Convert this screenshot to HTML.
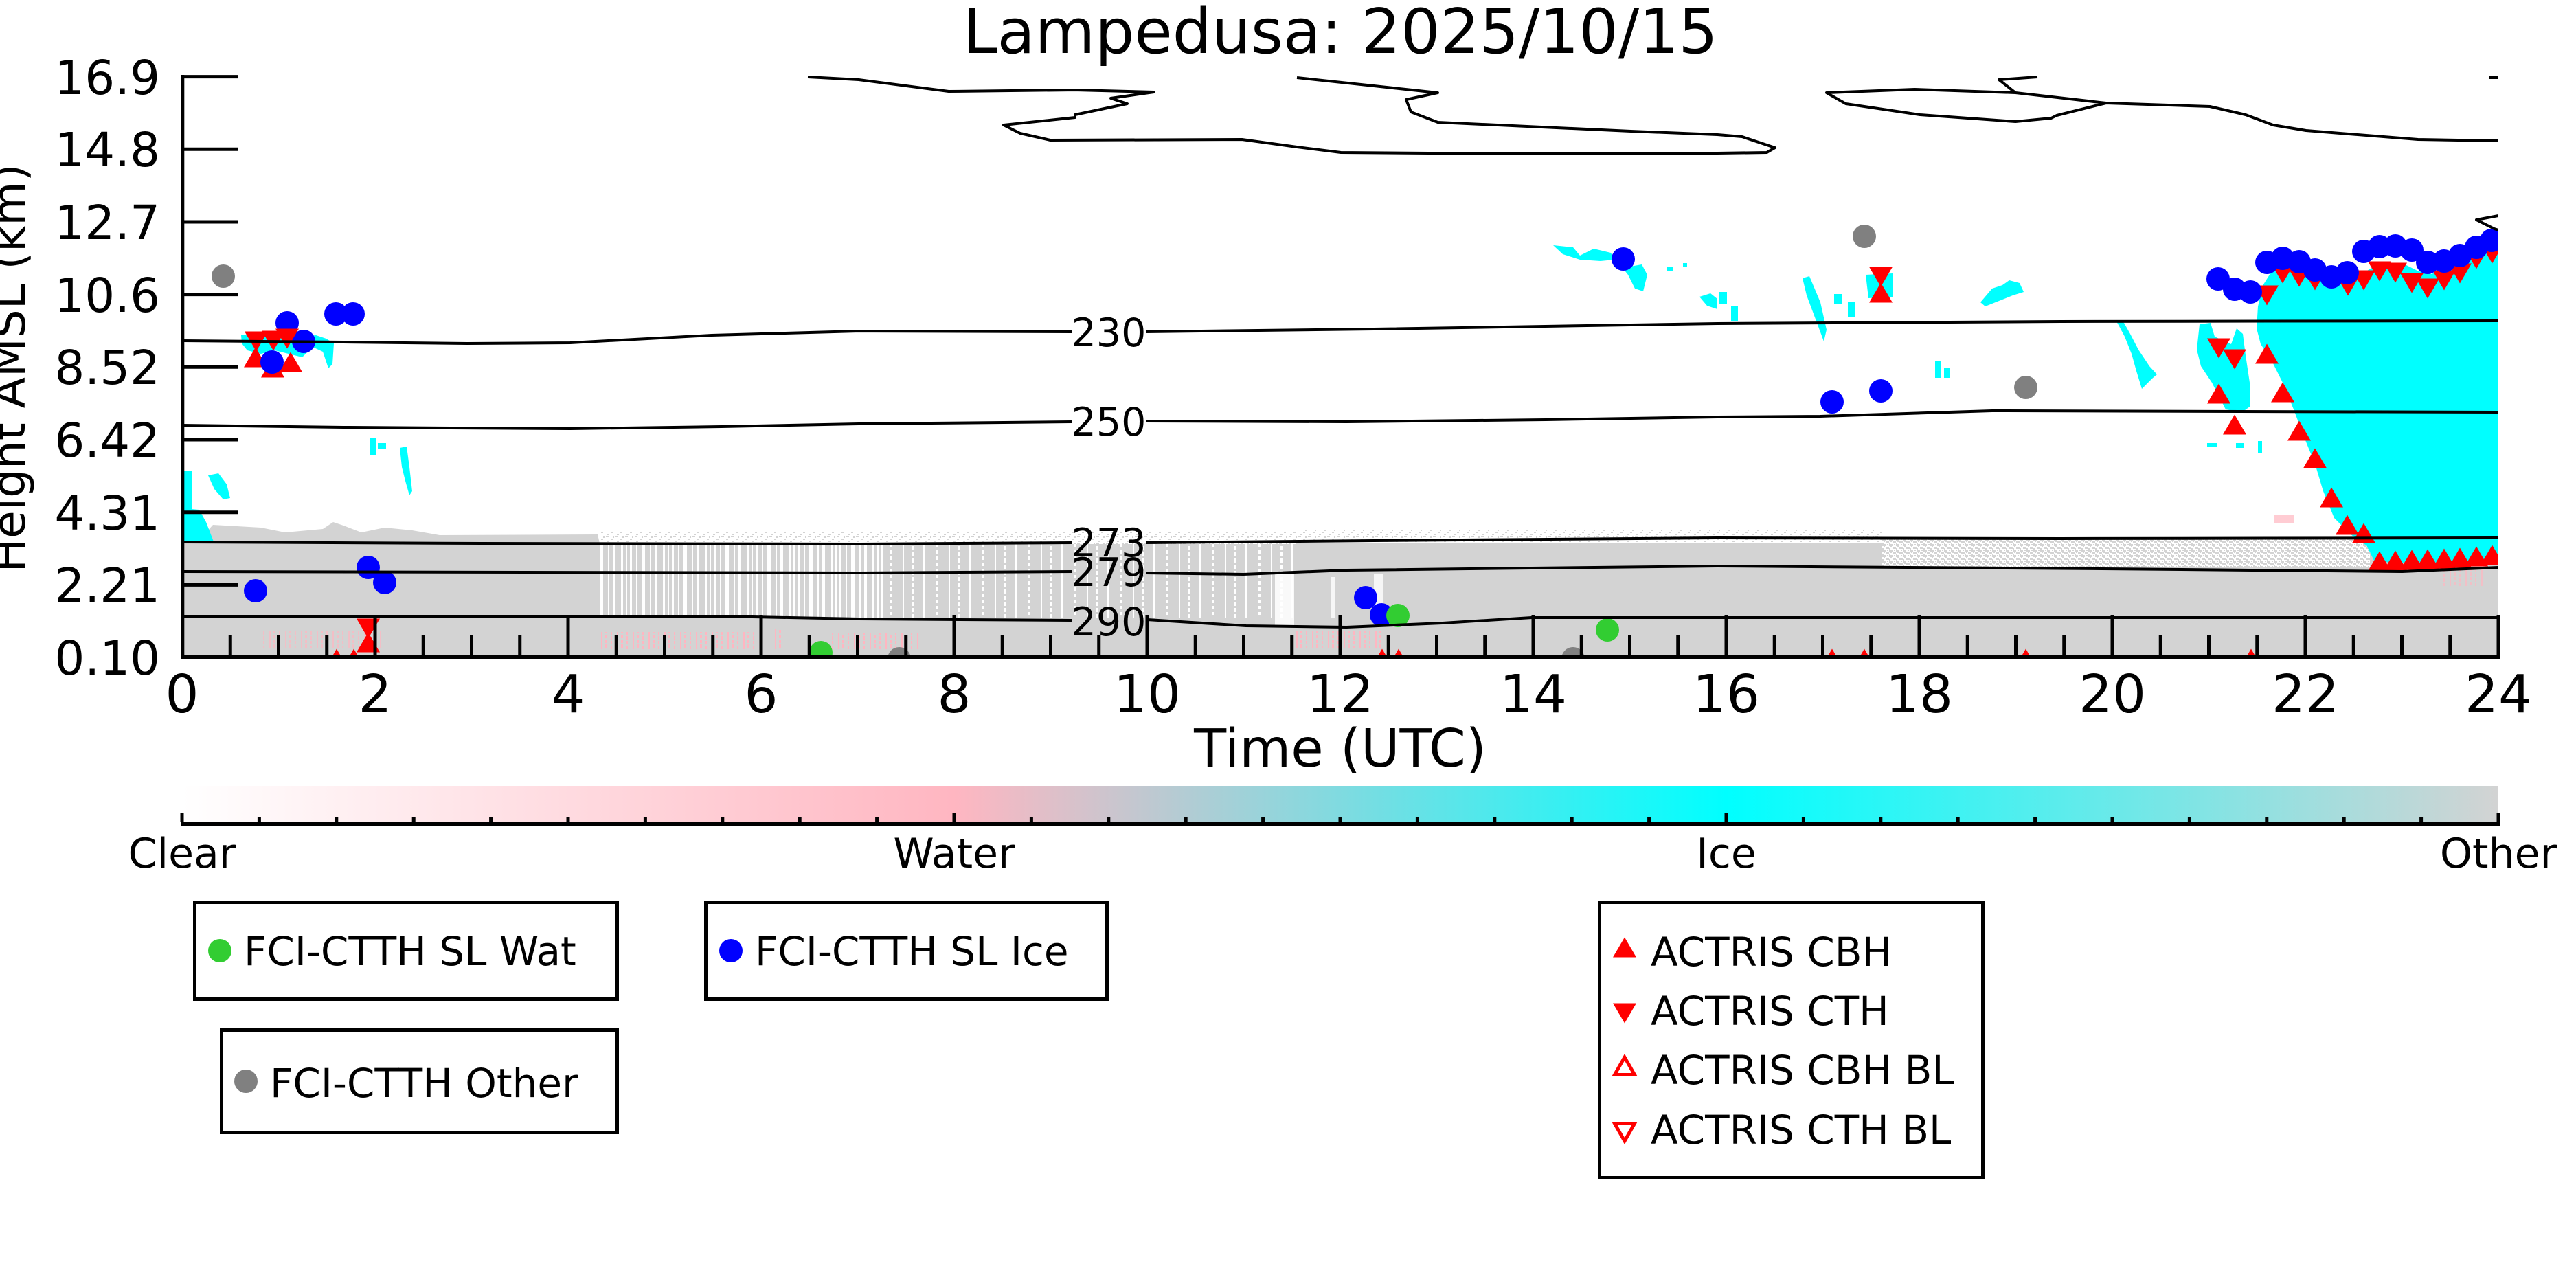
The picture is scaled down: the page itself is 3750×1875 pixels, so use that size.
<!DOCTYPE html>
<html><head><meta charset="utf-8"><style>html,body{margin:0;padding:0;background:#fff;width:3750px;height:1875px;overflow:hidden}svg{display:block}</style></head>
<body>
<svg width="3750" height="1875" viewBox="0 0 3750 1875" xmlns="http://www.w3.org/2000/svg" xmlns:xlink="http://www.w3.org/1999/xlink" font-family="'DejaVu Sans','Liberation Sans',sans-serif">
<defs>
<clipPath id="pc"><rect x="265" y="111" width="3372" height="846"/></clipPath>
<linearGradient id="cbg" x1="0" x2="1" y1="0" y2="0">
<stop offset="0" stop-color="#ffffff"/><stop offset="0.3333" stop-color="#ffb6c1"/><stop offset="0.6667" stop-color="#00ffff"/><stop offset="1" stop-color="#d3d3d3"/>
</linearGradient>
<pattern id="st" width="61" height="8" patternUnits="userSpaceOnUse"><rect width="61" height="8" fill="#d3d3d3"/><rect x="2" width="3" height="8" fill="#fff"/><rect x="11" width="2" height="8" fill="#fff"/><rect x="19" width="5" height="8" fill="#fff"/><rect x="31" width="2" height="8" fill="#fff"/><rect x="38" width="4" height="8" fill="#fff"/><rect x="50" width="3" height="8" fill="#fff"/><rect x="57" width="2" height="8" fill="#fff"/></pattern>
<pattern id="st2" width="67" height="9" patternUnits="userSpaceOnUse"><rect width="67" height="9" fill="#d3d3d3"/><rect x="4" width="2" height="9" fill="#fff"/><rect x="23" width="3" height="5" fill="#fff"/><rect x="41" width="2" height="9" fill="#fff"/><rect x="55" y="3" width="3" height="6" fill="#fff"/></pattern>
<pattern id="sp" width="14" height="10" patternUnits="userSpaceOnUse"><rect x="0" y="0" width="4" height="2" fill="#d3d3d3"/><rect x="7" y="4" width="3" height="2" fill="#d3d3d3"/><rect x="10" y="1" width="2" height="2" fill="#d3d3d3"/><rect x="2" y="7" width="3" height="2" fill="#d3d3d3"/></pattern>
<pattern id="sp2" width="10" height="8" patternUnits="userSpaceOnUse"><rect x="0" y="0" width="5" height="3" fill="#d3d3d3"/><rect x="5" y="4" width="5" height="3" fill="#d3d3d3"/><rect x="2" y="3" width="2" height="2" fill="#d3d3d3"/><rect x="7" y="0" width="2" height="2" fill="#d3d3d3"/><rect x="0" y="6" width="2" height="2" fill="#d3d3d3"/></pattern>
<pattern id="pk" width="23" height="7" patternUnits="userSpaceOnUse"><rect x="1" width="2" height="7" fill="#ffb6c1"/><rect x="7" width="3" height="5" fill="#ffb6c1"/><rect x="15" y="2" width="2" height="5" fill="#ffb6c1"/></pattern>
<path id="tu" d="M-17,14.5L17,14.5L0,-14.5Z" fill="#ff0000"/>
<path id="td" d="M-17,-14.5L17,-14.5L0,14.5Z" fill="#ff0000"/>
</defs>

<text x="1951" y="77" font-size="90" text-anchor="middle" fill="#000">Lampedusa: 2025/10/15</text>

<g clip-path="url(#pc)">
<polygon fill="#d3d3d3" points="265,791 265,957 873,957 873,791 870,778 640,779 600,772 560,768 526,775 500,765 485,760 470,770 415,775 380,768 310,764 300,775"/>
<rect x="873" y="775" width="1015" height="17" fill="url(#sp)"/>
<rect x="873" y="792" width="417" height="107" fill="url(#st)"/>
<rect x="1290" y="792" width="598" height="107" fill="url(#st2)"/>
<rect x="873" y="899" width="2764" height="58" fill="#d3d3d3"/>
<rect x="1888" y="772" width="852" height="18" fill="url(#sp)"/>
<rect x="1888" y="790" width="852" height="109" fill="#d3d3d3"/>
<rect x="2740" y="784" width="710" height="42" fill="url(#sp2)"/>
<rect x="2740" y="826" width="897" height="73" fill="#d3d3d3"/>
<rect x="3450" y="805" width="187" height="94" fill="#d3d3d3"/>
<rect x="1856" y="835" width="28" height="75" fill="#fff" opacity="0.85"/>
<rect x="2000" y="835" width="13" height="70" fill="#fff" opacity="0.8"/>
<rect x="1937" y="840" width="6" height="60" fill="#fff" opacity="0.8"/>
<rect x="874" y="920" width="224" height="25" fill="url(#pk)"/>
<rect x="1210" y="922" width="127" height="23" fill="url(#pk)"/>
<rect x="1127" y="915" width="14" height="30" fill="url(#pk)"/>
<rect x="1880" y="918" width="135" height="26" fill="url(#pk)"/>
<rect x="383" y="918" width="175" height="26" fill="url(#pk)" opacity="0.7"/>
<rect x="3552" y="826" width="63" height="27" fill="url(#pk)" opacity="0.7"/>
<rect x="3311" y="750" width="28" height="12" fill="#ffb6c1" opacity="0.7"/>

<g fill="#00ffff">
<polygon points="3307,395 3327,391 3350,399 3386,410 3422,410 3437,399 3465,383 3497,383 3521,395 3540,399 3564,387 3596,375 3619,363 3637,355 3637,822 3457,818 3445,794 3422,778 3398,754 3382,715 3370,675 3354,636 3339,596 3323,557 3307,525 3291,501 3285,478 3287,446 3295,414"/>
<polygon points="3202,472 3218,470 3224,490 3248,501 3256,478 3265,486 3269,517 3275,557 3275,592 3264,600 3240,596 3220,557 3204,533 3198,509"/>
<polygon points="3080,466 3092,470 3101,486 3113,509 3129,533 3140,545 3133,551 3118,566 3110,540 3103,515 3093,490 3085,475"/>
<rect x="3213" y="645" width="14" height="5"/><rect x="3255" y="645" width="12" height="7"/><rect x="3287" y="642" width="6" height="18"/>
<rect x="2502" y="425" width="12" height="18"/><rect x="2520" y="445" width="10" height="22"/>
<polygon points="2624,405 2634,402 2650,440 2659,480 2655,497 2645,470 2630,430"/>
<rect x="2670" y="428" width="12" height="14"/><rect x="2690" y="440" width="10" height="22"/>
<polygon points="2716,400 2755,398 2755,432 2720,434"/>
<polygon points="2883,440 2900,420 2915,415 2925,408 2940,412 2946,425 2930,430 2905,440 2890,446"/>
<rect x="2817" y="525" width="8" height="25"/><rect x="2830" y="535" width="8" height="15"/>
<polygon points="2261,357 2290,360 2300,372 2320,362 2345,368 2350,378 2330,380 2300,378 2275,370"/>
<polygon points="2362,390 2390,385 2398,400 2392,424 2380,420 2370,400"/>
<rect x="2426" y="388" width="10" height="6"/><rect x="2450" y="383" width="6" height="6"/>
<polygon points="2474,432 2490,427 2500,435 2500,450 2485,445"/>
<polygon points="351,488 370,485 395,488 420,486 440,490 460,488 475,493 486,500 484,530 478,536 470,512 455,505 440,520 420,515 400,510 380,515 360,510 352,500"/>
<rect x="538" y="638" width="10" height="25"/><rect x="550" y="645" width="12" height="8"/>
<polygon points="582,652 592,650 596,680 600,715 596,721 590,700 585,680"/>
<polygon points="267,740 290,742 300,760 312,791 267,791"/>
<rect x="267" y="686" width="12" height="57"/>
<polygon points="303,692 318,689 330,705 335,725 325,727 312,712"/>
</g>

<g fill="#0000ff">
<circle cx="418" cy="470" r="17"/><circle cx="442" cy="497" r="17"/><circle cx="489" cy="457" r="17"/><circle cx="514" cy="457" r="17"/>
<circle cx="372" cy="860" r="17"/><circle cx="536" cy="826" r="17"/><circle cx="560" cy="848" r="17"/>
<circle cx="2363" cy="377" r="17"/><circle cx="1988" cy="870" r="17"/><circle cx="2011" cy="895" r="17"/>
<circle cx="2667" cy="585" r="17"/><circle cx="2738" cy="569" r="17"/>
</g>
<g fill="#32cd32"><circle cx="2035" cy="896" r="17"/><circle cx="2340" cy="917" r="17"/><circle cx="1195" cy="950" r="17"/></g>
<g fill="#808080"><circle cx="325" cy="402" r="17"/><circle cx="2714" cy="344" r="17"/><circle cx="2949" cy="564" r="17"/><circle cx="1309" cy="959" r="17"/><circle cx="2290" cy="959" r="17"/></g>
<g>
<use xlink:href="#td" x="373" y="497"/><use xlink:href="#td" x="398" y="496"/><use xlink:href="#td" x="418" y="493"/>
<use xlink:href="#tu" x="372" y="520"/><use xlink:href="#tu" x="397" y="535"/><use xlink:href="#tu" x="423" y="527"/>
<use xlink:href="#td" x="536" y="915"/><use xlink:href="#tu" x="536" y="935"/>
<use xlink:href="#td" x="2738" y="403"/><use xlink:href="#tu" x="2738" y="426"/>
<use xlink:href="#tu" x="490" y="959"/><use xlink:href="#tu" x="515" y="959"/><use xlink:href="#tu" x="2012" y="959"/><use xlink:href="#tu" x="2036" y="959"/>
<use xlink:href="#tu" x="2667" y="959"/><use xlink:href="#tu" x="2714" y="959"/><use xlink:href="#tu" x="2949" y="959"/><use xlink:href="#tu" x="3277" y="959"/>
<use xlink:href="#td" x="3300" y="430"/><use xlink:href="#td" x="3323" y="398"/><use xlink:href="#td" x="3347" y="403"/><use xlink:href="#td" x="3370" y="408"/>
<use xlink:href="#td" x="3418" y="416"/><use xlink:href="#td" x="3441" y="408"/><use xlink:href="#td" x="3464" y="395"/><use xlink:href="#td" x="3487" y="397"/>
<use xlink:href="#td" x="3511" y="412"/><use xlink:href="#td" x="3534" y="420"/><use xlink:href="#td" x="3558" y="408"/><use xlink:href="#td" x="3581" y="398"/>
<use xlink:href="#td" x="3605" y="377"/><use xlink:href="#td" x="3628" y="369"/>
<use xlink:href="#td" x="3230" y="507"/><use xlink:href="#td" x="3253" y="523"/>
<use xlink:href="#tu" x="3300" y="515"/><use xlink:href="#tu" x="3230" y="573"/><use xlink:href="#tu" x="3323" y="571"/><use xlink:href="#tu" x="3253" y="618"/>
<use xlink:href="#tu" x="3347" y="627"/><use xlink:href="#tu" x="3370" y="667"/><use xlink:href="#tu" x="3394" y="724"/><use xlink:href="#tu" x="3417" y="764"/>
<use xlink:href="#tu" x="3441" y="776"/><use xlink:href="#tu" x="3464" y="817"/><use xlink:href="#tu" x="3487" y="816"/><use xlink:href="#tu" x="3511" y="815"/>
<use xlink:href="#tu" x="3534" y="814"/><use xlink:href="#tu" x="3558" y="813"/><use xlink:href="#tu" x="3581" y="812"/><use xlink:href="#tu" x="3605" y="810"/><use xlink:href="#tu" x="3628" y="808"/>
</g>
<g fill="#0000ff">
<circle cx="396" cy="527" r="17"/>
<circle cx="3229" cy="406" r="17"/><circle cx="3253" cy="421" r="17"/><circle cx="3276" cy="425" r="17"/><circle cx="3300" cy="382" r="17"/>
<circle cx="3323" cy="376" r="17"/><circle cx="3347" cy="381" r="17"/><circle cx="3370" cy="393" r="17"/><circle cx="3394" cy="403" r="17"/>
<circle cx="3417" cy="397" r="17"/><circle cx="3441" cy="366" r="17"/><circle cx="3464" cy="359" r="17"/><circle cx="3487" cy="358" r="17"/>
<circle cx="3511" cy="364" r="17"/><circle cx="3534" cy="382" r="17"/><circle cx="3558" cy="380" r="17"/><circle cx="3581" cy="372" r="17"/>
<circle cx="3605" cy="360" r="17"/><circle cx="3627" cy="350" r="17"/>
</g>

<g fill="none" stroke="#000" stroke-width="4" stroke-linejoin="round">
<path d="M265,496 L500,498 L680,500 L830,499 L1036,488 L1250,482 L1560,483 M1668,483 L2000,479 L2500,471 L3000,468 L3637,467"/>
<path d="M265,619 L500,622 L830,624 L1050,621 L1250,617 L1560,614 M1668,613 L1960,614 L2250,611 L2500,607 L2650,606 L2900,598 L3637,600"/>
<path d="M265,789 L700,791 L1250,792 L1560,790 M1668,790 L2000,787 L2500,783 L3000,784 L3637,783"/>
<path d="M265,832 L1250,834 L1560,832 M1668,834 L1810,836 L1960,830 L2500,824 L3060,828 L3497,832 L3637,826"/>
<path d="M265,898 L1095,898 L1250,901 L1560,903 M1670,902 L1814,911 L1960,913 L2100,907 L2230,899 L3637,899"/>
<path d="M1176,112 L1250,116 L1381,133 L1565,131 L1680,134 L1617,143 L1641,151 L1565,167 L1565,171 L1461,182 L1485,194 L1529,204 L1808,203 L1888,214 L1952,222 L2215,224 L2500,223 L2572,222 L2584,215 L2536,199 L2500,196 L2374,191 L2093,178 L2054,163 L2047,145 L2093,135 L1888,113"/>
<path d="M2966,112 L2910,116 L2934,135 L2787,130 L2659,135 L2687,151 L2795,167 L2934,177 L2986,172 L2994,168 L3066,150 L3217,155 L3269,167 L3309,182 L3357,190 L3520,203 L3637,205 M2934,135 L3066,150"/>
<path d="M3637,314 L3605,320 L3631,333 L3637,335 M3624,113 L3637,113"/>
</g>
</g>

<g font-size="57" text-anchor="middle" fill="#000">
<text x="1614" y="504">230</text>
<text x="1614" y="634">250</text>
<text x="1614" y="810">273</text>
<text x="1614" y="853">279</text>
<text x="1614" y="925">290</text>
</g>

<g stroke="#000" stroke-width="5" fill="none">
<line x1="265.8" y1="109" x2="265.8" y2="959"/>
<line x1="263" y1="956.5" x2="3640" y2="956.5"/>
<path d="M265,111.6H346 M265,217.3H346 M265,323H346 M265,428.6H346 M265,534.3H346 M265,640H346 M265,745.7H346 M265,851.4H346"/>
<path d="M546,957V895 M827,957V895 M1108,957V895 M1389,957V895 M1670,957V895 M1951,957V895 M2232,957V895 M2513,957V895 M2794,957V895 M3075,957V895 M3356,957V895 M3637,957V895"/>
<path d="M335.25,957V925 M405.5,957V925 M475.75,957V925 M616.25,957V925 M686.5,957V925 M756.75,957V925 M897.25,957V925 M967.5,957V925 M1037.75,957V925 M1178.25,957V925 M1248.5,957V925 M1318.75,957V925 M1459.25,957V925 M1529.5,957V925 M1599.75,957V925 M1740.25,957V925 M1810.5,957V925 M1880.75,957V925 M2021.25,957V925 M2091.5,957V925 M2161.75,957V925 M2302.25,957V925 M2372.5,957V925 M2442.75,957V925 M2583.25,957V925 M2653.5,957V925 M2723.75,957V925 M2864.25,957V925 M2934.5,957V925 M3004.75,957V925 M3145.25,957V925 M3215.5,957V925 M3285.75,957V925 M3426.25,957V925 M3496.5,957V925 M3566.75,957V925"/>
</g>

<g font-size="69" text-anchor="end" fill="#000">
<text x="233" y="137">16.9</text>
<text x="233" y="242">14.8</text>
<text x="233" y="348">12.7</text>
<text x="233" y="454">10.6</text>
<text x="233" y="559">8.52</text>
<text x="233" y="665">6.42</text>
<text x="233" y="771">4.31</text>
<text x="233" y="876">2.21</text>
<text x="233" y="982">0.10</text>
</g>
<text transform="translate(36,536) rotate(-90)" font-size="66" text-anchor="middle" fill="#000">Height AMSL (km)</text>

<g font-size="77" text-anchor="middle" fill="#000">
<text x="265" y="1037">0</text><text x="546" y="1037">2</text><text x="827" y="1037">4</text><text x="1108" y="1037">6</text>
<text x="1389" y="1037">8</text><text x="1670" y="1037">10</text><text x="1951" y="1037">12</text><text x="2232" y="1037">14</text>
<text x="2513" y="1037">16</text><text x="2794" y="1037">18</text><text x="3075" y="1037">20</text><text x="3356" y="1037">22</text><text x="3637" y="1037">24</text>
</g>
<text x="1951" y="1116" font-size="77" text-anchor="middle" fill="#000">Time (UTC)</text>

<rect x="265" y="1144" width="3372" height="53" fill="url(#cbg)"/>
<g stroke="#000" fill="none">
<line x1="263" y1="1200" x2="3640" y2="1200" stroke-width="6"/>
<path stroke-width="5" d="M265,1197V1183 M1389,1197V1183 M2513,1197V1183 M3637,1197V1183"/>
<path stroke-width="5" d="M377.4,1197V1190 M489.8,1197V1190 M602.2,1197V1190 M714.6,1197V1190 M827,1197V1190 M939.4,1197V1190 M1051.8,1197V1190 M1164.2,1197V1190 M1276.6,1197V1190 M1501.4,1197V1190 M1613.8,1197V1190 M1726.2,1197V1190 M1838.6,1197V1190 M1951,1197V1190 M2063.4,1197V1190 M2175.8,1197V1190 M2288.2,1197V1190 M2400.6,1197V1190 M2625.4,1197V1190 M2737.8,1197V1190 M2850.2,1197V1190 M2962.6,1197V1190 M3075,1197V1190 M3187.4,1197V1190 M3299.8,1197V1190 M3412.2,1197V1190 M3524.6,1197V1190"/>
</g>
<g font-size="60" text-anchor="middle" fill="#000">
<text x="265" y="1263">Clear</text><text x="1389" y="1263">Water</text><text x="2513" y="1263">Ice</text><text x="3637" y="1263">Other</text>
</g>

<g fill="#fff" stroke="#000" stroke-width="5">
<rect x="283.5" y="1313.5" width="615" height="141"/>
<rect x="1027.5" y="1313.5" width="584" height="141"/>
<rect x="322.5" y="1499.5" width="576" height="149"/>
<rect x="2328.5" y="1313.5" width="558" height="401"/>
</g>
<circle cx="320" cy="1384" r="17" fill="#32cd32"/>
<circle cx="1064" cy="1384" r="17" fill="#0000ff"/>
<circle cx="358" cy="1574" r="17" fill="#808080"/>
<g font-size="58" fill="#000">
<text x="355" y="1405">FCI-CTTH SL Wat</text>
<text x="1099" y="1405">FCI-CTTH SL Ice</text>
<text x="393" y="1597">FCI-CTTH Other</text>
<text x="2403" y="1406">ACTRIS CBH</text>
<text x="2403" y="1492">ACTRIS CTH</text>
<text x="2403" y="1578">ACTRIS CBH BL</text>
<text x="2403" y="1665">ACTRIS CTH BL</text>
</g>
<use xlink:href="#tu" x="2365" y="1379"/>
<use xlink:href="#td" x="2365" y="1475"/>
<path d="M2350.5,1564.5L2379.5,1564.5L2365,1539Z" fill="#fff" stroke="#ff0000" stroke-width="5" stroke-linejoin="miter"/>
<path d="M2350.5,1635.5L2379.5,1635.5L2365,1661Z" fill="#fff" stroke="#ff0000" stroke-width="5" stroke-linejoin="miter"/>
</svg>
</body></html>
